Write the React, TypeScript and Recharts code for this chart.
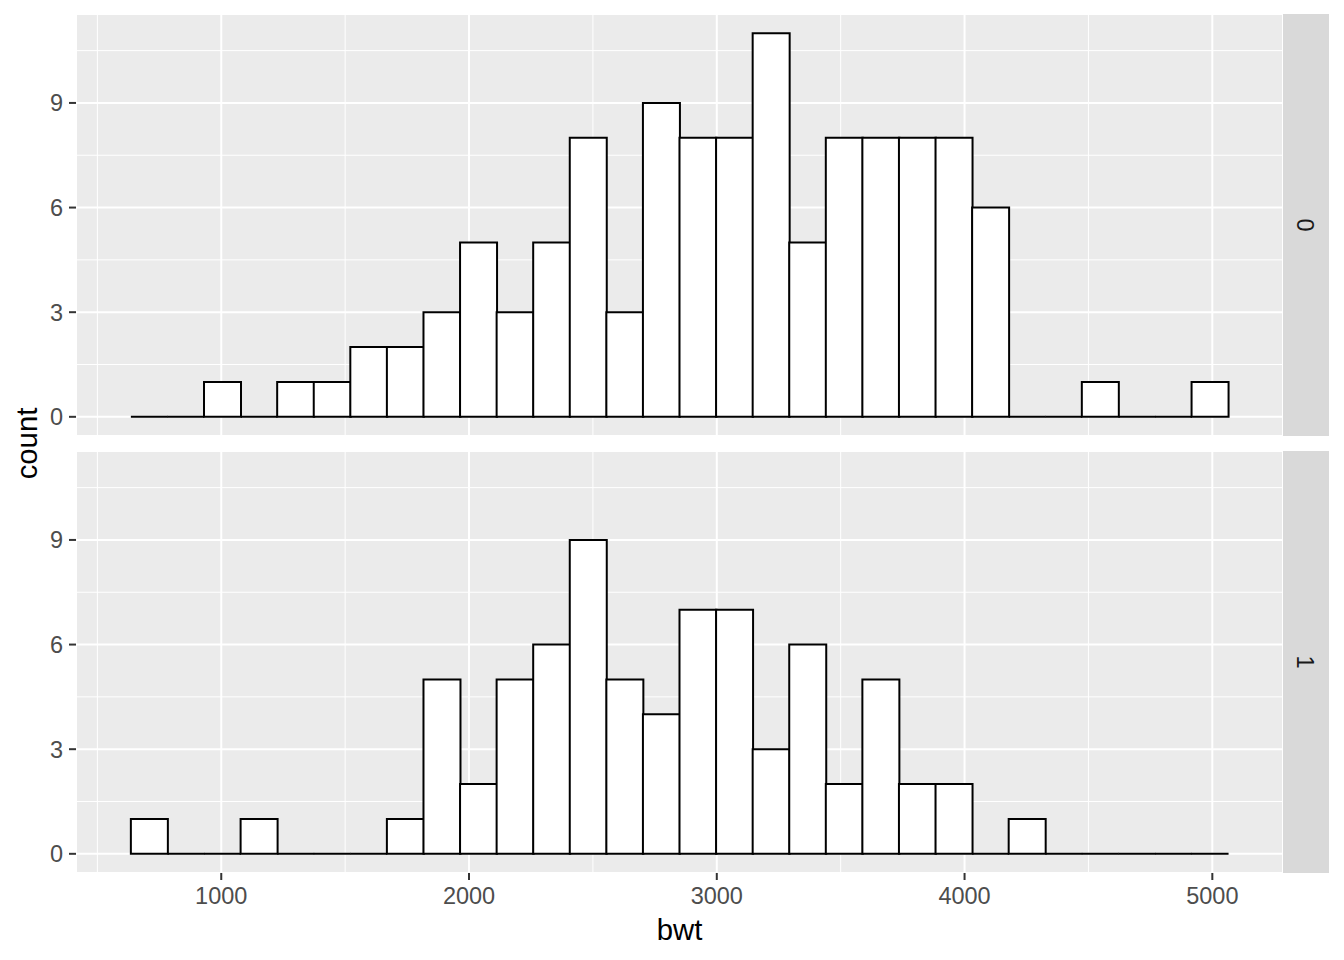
import React from 'react';
import { ComposedChart, Bar, XAxis, YAxis, CartesianGrid } from 'recharts';

// Histogram bin centres (30 bins of width ~147.62 over bwt 709..4990)
const binCenters = [
  709, 856.6, 1004.2, 1151.9, 1299.5, 1447.1, 1594.7, 1742.3, 1890.0, 2037.6,
  2185.2, 2332.8, 2480.4, 2628.1, 2775.7, 2923.3, 3070.9, 3218.6, 3366.2, 3513.8,
  3661.4, 3809.0, 3956.7, 4104.3, 4251.9, 4399.5, 4547.1, 4694.8, 4842.4, 4990.0,
];
const countsSmoke0 = [0, 0, 1, 0, 1, 1, 2, 2, 3, 5, 3, 5, 8, 3, 9, 8, 8, 11, 5, 8, 8, 8, 8, 6, 0, 0, 1, 0, 0, 1];
const countsSmoke1 = [1, 0, 0, 1, 0, 0, 0, 1, 5, 2, 5, 6, 9, 5, 4, 7, 7, 3, 6, 2, 5, 2, 2, 0, 1, 0, 0, 0, 0, 0];
const facetLabels = ['0', '1'];

const xTicks = [1000, 2000, 3000, 4000, 5000];
const xMinorTicks = [500, 1500, 2500, 3500, 4500];
const yTicks = [0, 3, 6, 9];
const yMinorTicks = [1.5, 4.5, 7.5, 10.5];
const xDomain = [413.76, 5285.24];
const yDomain = [-0.55, 11.55];

const FONT = '"Liberation Sans", Arial, sans-serif';

const HistRect = (props: any) => {
  const { x, y, width, height } = props;
  if (x == null || y == null || width == null) return null;
  const h = Math.max(height || 0, 0);
  const d = `M${x},${y} H${x + width} V${y + h} H${x} Z`;
  return <path d={d} fill="#FFFFFF" stroke="#000000" strokeWidth={2} strokeLinejoin="miter" />;
};

function Panel({ counts, showX, top, height }: { counts: number[]; showX: boolean; top: number; height: number }) {
  const data = binCenters.map((c, i) => ({ center: c, count: counts[i] }));
  return (
    <div style={{ position: 'absolute', left: 0, top }}>
      <ComposedChart
        width={1344}
        height={height}
        data={data}
        margin={{ top: 14, right: 61, left: 0, bottom: showX ? 0 : 14 }}
        barCategoryGap={0}
        barGap={0}
      >
        <XAxis
          xAxisId="minor"
          type="number"
          dataKey="center"
          domain={xDomain}
          allowDataOverflow
          ticks={xMinorTicks}
          hide
        />
        <YAxis
          yAxisId="minor"
          type="number"
          domain={yDomain}
          allowDataOverflow
          ticks={yMinorTicks}
          hide
        />
        <CartesianGrid
          xAxisId="minor"
          yAxisId="minor"
          fill="#EBEBEB"
          fillOpacity={1}
          stroke="#FFFFFF"
          strokeWidth={1}
        />
        <CartesianGrid stroke="#FFFFFF" strokeWidth={2} />
        <XAxis
          type="number"
          dataKey="center"
          domain={xDomain}
          allowDataOverflow
          ticks={xTicks}
          hide={!showX}
          height={87}
          axisLine={false}
          tickLine={{ stroke: '#333333', strokeWidth: 2 }}
          tickSize={7}
          tickMargin={7}
          tick={{ fill: '#4D4D4D', fontSize: 23.5, fontFamily: FONT }}
        />
        <YAxis
          type="number"
          domain={yDomain}
          allowDataOverflow
          ticks={yTicks}
          width={76}
          axisLine={false}
          tickLine={{ stroke: '#333333', strokeWidth: 2 }}
          tickSize={7}
          tickMargin={6}
          tick={{ fill: '#4D4D4D', fontSize: 23.5, fontFamily: FONT }}
        />
        <Bar dataKey="count" isAnimationActive={false} shape={HistRect} />
      </ComposedChart>
    </div>
  );
}

export default function App() {
  return (
    <div
      style={{
        position: 'absolute',
        left: 0,
        top: 0,
        width: 1344,
        height: 960,
        background: '#FFFFFF',
        fontFamily: FONT,
        overflow: 'hidden',
      }}
    >
      <Panel counts={countsSmoke0} showX={false} top={0} height={450} />
      <Panel counts={countsSmoke1} showX={true} top={437} height={523} />
      <svg
        width={1344}
        height={960}
        style={{ position: 'absolute', left: 0, top: 0, pointerEvents: 'none' }}
      >
        <rect x={1283} y={14} width={46} height={422} fill="#D9D9D9" />
        <rect x={1283} y={451} width={46} height={422} fill="#D9D9D9" />
        <text
          x={1305}
          y={225}
          transform="rotate(90 1305 225)"
          textAnchor="middle"
          dominantBaseline="central"
          fill="#1A1A1A"
          fontSize={23.5}
          fontFamily={FONT}
        >
          {facetLabels[0]}
        </text>
        <text
          x={1305}
          y={662}
          transform="rotate(90 1305 662)"
          textAnchor="middle"
          dominantBaseline="central"
          fill="#1A1A1A"
          fontSize={23.5}
          fontFamily={FONT}
        >
          {facetLabels[1]}
        </text>
        <text
          x={679.5}
          y={940}
          textAnchor="middle"
          fill="#000000"
          fontSize={29.3}
          fontFamily={FONT}
        >
          bwt
        </text>
        <text
          x={37}
          y={443.5}
          transform="rotate(-90 37 443.5)"
          textAnchor="middle"
          fill="#000000"
          fontSize={29.3}
          fontFamily={FONT}
        >
          count
        </text>
      </svg>
    </div>
  );
}
